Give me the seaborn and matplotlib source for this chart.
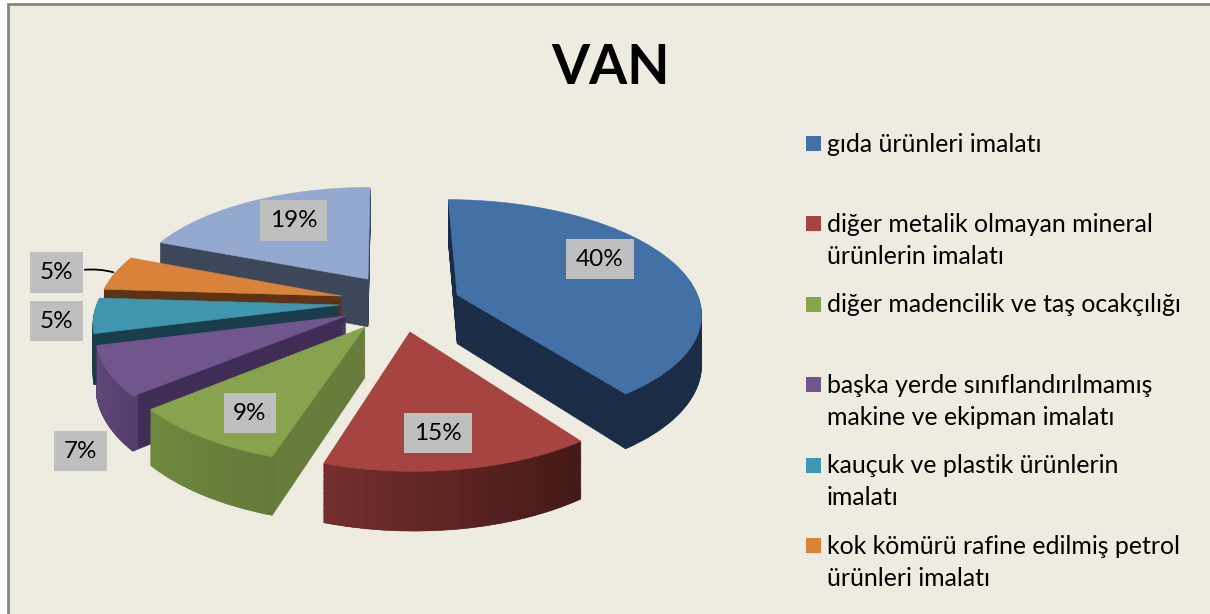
import numpy as np
import matplotlib
matplotlib.use("Agg")
import matplotlib.pyplot as plt
from matplotlib.patches import Rectangle
from matplotlib.transforms import Transform
import seaborn as sns

# ===== donnees =====
titre = "VAN"
parts = [40, 15, 9, 7, 5, 5, 19]
etiquettes = ["40%", "15%", "9%", "7%", "5%", "5%", "19%"]
legende = [
    ["gıda ürünleri imalatı"],
    ["diğer metalik olmayan mineral", "ürünlerin imalatı"],
    ["diğer madencilik ve taş ocakçılığı"],
    ["başka yerde sınıflandırılmamış", "makine ve ekipman imalatı"],
    ["kauçuk ve plastik ürünlerin", "imalatı"],
    ["kok kömürü rafine edilmiş petrol", "ürünleri imalatı"],
]

# ===== couleurs =====
dessus = sns.color_palette(["#4371a6", "#a64441", "#87a34d", "#70568d", "#3f96ae", "#d8823a", "#93a9cf"])
coupe = sns.color_palette(["#1b2d46", "#5a2220", "#687d3c", "#402d55", "#1a3d4b", "#5c3315", "#3c4759"])
bord_debut = sns.color_palette(["#1b2d46", "#431a17", "#65793a", "#553f6c", "#1a3d4b", "#5c3315", "#3c4759"])
bord_fin = sns.color_palette(["#1b2d46", "#732e2d", "#6f8a3e", "#60497c", "#1a3d4b", "#5c3315", "#3c4759"])
fond = "#eeece1"

# ===== mise en page =====
ecart_x = [0.30, 0.099, -0.08, -0.158, -0.185, -0.179, -0.072]
ecart_y = [0.046, -0.279, -0.236, -0.142, -0.045, 0.036, 0.195]
ordre = [6, 5, 4, 3, 2, 1, 0]  # de l'arriere vers l'avant
pos_etiquettes = [(600, 259), (438, 433), (250, 413), (80.5, 451), (56.5, 321), (56.5, 272.5), (293.5, 220.5)]
CX, CY, RX, RY, K = 385, 300, 242, 110, 0.14
EPAISSEUR = 49


class Perspective(Transform):
    # projette le disque de la tarte en pixels, avec la profondeur en bas
    input_dims = 2
    output_dims = 2

    def __init__(self, profondeur=0):
        super().__init__()
        self.profondeur = profondeur

    def transform_non_affine(self, values):
        values = np.asarray(values)
        w = 1 + K * values[:, 1]
        return np.column_stack([CX + RX * values[:, 0] / w,
                                CY + (self.profondeur - RY * values[:, 1]) / w])


sns.set_theme(style="white")
plt.rcParams["font.family"] = ["Lato", "DejaVu Sans"]

fig = plt.figure(figsize=(12.10, 6.14), dpi=100, facecolor="white")
ax = fig.add_axes([0, 0, 1, 1])


def part_tarte(ax, valeurs, couleurs, debut, centre, profondeur, **props):
    wedges, _ = ax.pie(valeurs, colors=couleurs, startangle=debut, counterclock=False,
                       center=centre, normalize=False, wedgeprops=props)
    tr = Perspective(profondeur) + ax.transData
    for w in wedges:
        w.set_transform(tr)
        w.set_clip_on(False)


cumul = np.cumsum([0] + parts)
ax.add_patch(Rectangle((8, 4), 1300, 700, facecolor=fond, edgecolor="#868686", lw=2, zorder=0))

for i in ordre:
    v = parts[i] / 100
    debut = 90 - 3.6 * cumul[i]
    centre = (ecart_x[i], ecart_y[i])
    # flancs
    for d in np.arange(EPAISSEUR, 0, -1.0):
        part_tarte(ax, [v], [coupe[i]], debut, centre, d, edgecolor=coupe[i], lw=0.4)
    # bord arrondi en degrade
    n = 20
    degrade = [tuple(np.array(bord_debut[i]) * (1 - t) + np.array(bord_fin[i]) * t) for t in np.linspace(0, 1, n)]
    for d in np.arange(EPAISSEUR, 0, -1.0):
        part_tarte(ax, [v / n] * n, degrade, debut, centre, d, width=0.025, edgecolor="none", lw=0)
    part_tarte(ax, [v], [dessus[i]], debut, centre, 0, edgecolor=dessus[i], lw=0.4)

ax.set_aspect("auto")
ax.set_xlim(0, 1210)
ax.set_ylim(614, 0)
ax.axis("off")

ax.text(611, 68, titre, fontsize=39.5, fontweight="bold", color="black", ha="center", va="center")

for (x, y), lab in zip(pos_etiquettes, etiquettes):
    ax.text(x, y, lab, fontsize=17.5, color="black", ha="center", va="center", zorder=5,
            bbox=dict(boxstyle="square,pad=0.4", facecolor="#bfbfbf", edgecolor="none"))

# trait de rappel du 5% orange
ax.annotate("", xy=(116, 273), xytext=(82, 270),
            arrowprops=dict(arrowstyle="-", color="black", lw=1.3, connectionstyle="arc3,rad=-0.1"))

for i, lignes in enumerate(legende):
    y = 143.5 + 80.4 * i
    ax.add_patch(Rectangle((806, y - 7.5), 15, 15, facecolor=dessus[i], edgecolor="none"))
    for j, ligne in enumerate(lignes):
        ax.text(827, y + 32 * j + 0.5, ligne, fontsize=17.95, color="black", ha="left", va="center")

fig.savefig("out.png", dpi=100, facecolor="white")
